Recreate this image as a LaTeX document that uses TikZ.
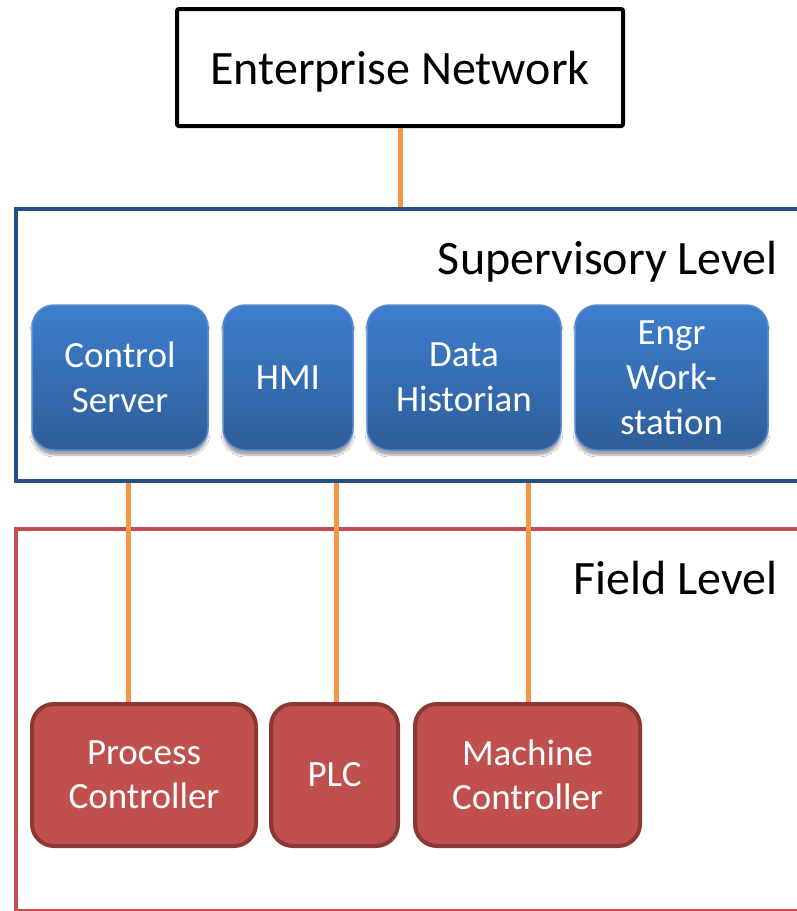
\documentclass[tikz,border=0pt]{standalone}
\usepackage{fontspec}
\setmainfont{Carlito}
\usetikzlibrary{shadows.blur}
\definecolor{frameblue}{RGB}{40,80,135}
\definecolor{framered}{RGB}{192,80,77}
\definecolor{linkorange}{RGB}{247,150,70}
\definecolor{bluetop}{RGB}{62,127,205}
\definecolor{bluebot}{RGB}{45,93,153}
\definecolor{blueedge}{RGB}{90,140,205}
\definecolor{redfill}{RGB}{192,80,77}
\definecolor{reddark}{RGB}{140,56,54}
\tikzset{
  entbox/.style={draw=black, line width=4pt, rounded corners=2pt, fill=white,
    inner sep=0pt, font=\fontsize{48}{57}\selectfont, text depth=0pt},
  supbox/.style={draw=blueedge, line width=1.5pt, rounded corners=22pt,
    top color=bluetop, bottom color=bluebot, text=white, align=center,
    inner sep=0pt, font=\fontsize{37}{45}\selectfont,
    blur shadow={shadow xshift=0pt, shadow yshift=-5pt, shadow blur steps=6, shadow opacity=35}},
  fieldbox/.style={draw=reddark, line width=4pt, rounded corners=22pt,
    fill=redfill, text=white, align=center, inner sep=0pt,
    font=\fontsize{37}{44}\selectfont},
  levelframe/.style={line width=4.5pt, inner sep=0pt},
  levellabel/.style={anchor=base east, inner sep=0pt, font=\fontsize{48}{57}\selectfont},
  link/.style={draw=linkorange, line width=5pt}
}
\begin{document}
\begin{tikzpicture}[x=1pt, y=-1pt]
\useasboundingbox (0,0) rectangle (797,911);
\clip (0,0) rectangle (797,911);
\fill[white] (0,0) rectangle (797,911);

% level frames
\node[levelframe, draw=frameblue, minimum width=814pt, minimum height=272pt] (sup) at (423,345) {};
\node[levelframe, draw=framered, line width=4pt, minimum width=814pt, minimum height=382pt] (field) at (423,720) {};

% enterprise
\node[entbox, minimum width=446pt, minimum height=117pt] (ent) at (400,67.5) {Enterprise Network};

% level labels
\node[levellabel] (suplabel) at (778,274) {Supervisory Level};
\node[levellabel] (fieldlabel) at (778,594) {Field Level};

% field boxes
\node[fieldbox, minimum width=224pt, minimum height=142pt] (pc) at (144,775) {Process\\Controller};
\node[fieldbox, minimum width=127pt, minimum height=142pt] (plc) at (334.5,775) {PLC};
\node[fieldbox, minimum width=225pt, minimum height=142pt] (mc) at (527.5,775) {Machine\\Controller};

% links
\draw[link] (ent.south) -- (ent.south |- sup.north);
\draw[link] ([xshift=-16pt]pc.north) -- ([xshift=-16pt]pc.north |- sup.south);
\draw[link] ([xshift=1.5pt]plc.north) -- ([xshift=1.5pt]plc.north |- sup.south);
\draw[link] ([xshift=0.5pt]mc.north) -- ([xshift=0.5pt]mc.north |- sup.south);

% supervisory boxes
\node[supbox, minimum width=176pt, minimum height=145pt] (cs) at (120,377.5) {Control\\Server};
\node[supbox, minimum width=130pt, minimum height=145pt] (hmi) at (288,377.5) {HMI};
\node[supbox, minimum width=194pt, minimum height=145pt] (dh) at (464,377.5) {Data\\Historian};
\node[supbox, minimum width=193pt, minimum height=145pt] (ew) at (671.5,377.5) {Engr\\Work-\\station};
\end{tikzpicture}
\end{document}
